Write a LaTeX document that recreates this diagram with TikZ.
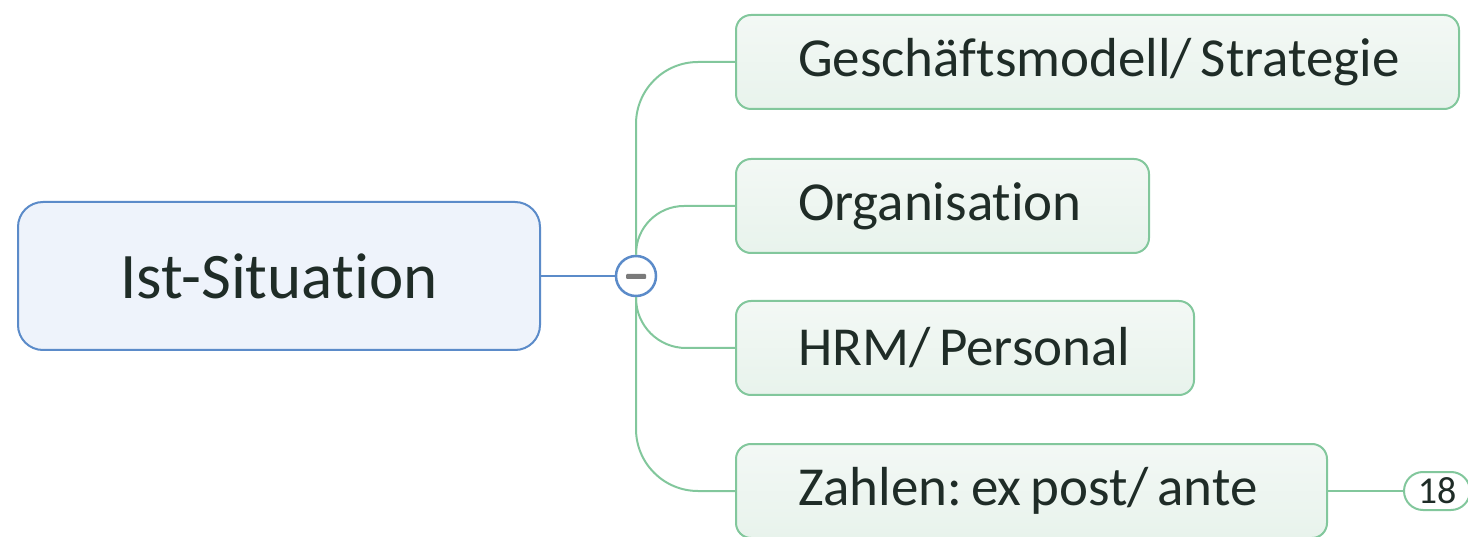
\documentclass[tikz,border=0pt]{standalone}
\usepackage{fontspec}
\setmainfont[Ligatures=NoCommon]{Carlito}
\usepackage{xcolor}
\usetikzlibrary{positioning}
\definecolor{rootfill}{HTML}{EEF3FB}
\definecolor{rootline}{HTML}{5B8BC9}
\definecolor{subtop}{HTML}{F3F8F5}
\definecolor{subbot}{HTML}{E8F3EC}
\definecolor{subline}{HTML}{82C79C}
\definecolor{inkcol}{HTML}{1F2C27}
\definecolor{minuscol}{HTML}{7A7A7A}
\frenchspacing
\newcommand{\tightspace}{\spaceskip=0.16em\relax}

\begin{document}
\begin{tikzpicture}[x=1pt, y=-1pt,
    rootbox/.style={draw=rootline, line width=2pt, fill=rootfill, rounded corners=25pt,
      minimum width=522pt, minimum height=148pt, text=inkcol,
      font=\fontsize{65}{70}\selectfont},
    subbox/.style={draw=subline, line width=2pt, top color=subtop, bottom color=subbot,
      rounded corners=15pt, anchor=west, inner xsep=62pt, minimum height=94pt,
      align=left, text=inkcol, font=\fontsize{55}{60}\selectfont,
      execute at begin node=\tightspace},
    branch/.style={draw=subline, line width=2pt},
    pill/.style={draw=subline, line width=2pt, fill=white, rounded corners=19pt,
      minimum width=66pt, minimum height=38pt, inner sep=0pt, anchor=west,
      text=inkcol, font=\fontsize{38}{40}\selectfont}]
    \useasboundingbox (0,0) rectangle (1468,537);

    \node[rootbox] (root) at (279,276) {Ist-Situation};
    \node[draw=rootline, line width=2.5pt, fill=white, circle, minimum size=40pt] (knob) at (636,276) {};
    \fill[minuscol, rounded corners=1pt] (626,274) rectangle (646,279);

    \node[subbox, text width=599pt] (strat) at (735,62) {\mbox{Geschäftsmodell/ Strategie}};
    \node[subbox, text width=289pt] (orga) at (735,206) {\mbox{Organisation}};
    \node[subbox, text width=334pt] (hrm) at (735,348) {\mbox{HRM/ Personal}};
    \node[subbox, text width=467pt] (zahlen) at (735,491) {\mbox{Zahlen: ex post/ ante}};
    \node[pill] (count) at (1403,491) {18};

    \draw[rootline, line width=2pt] (root.east) -- (knob.west);
    \draw[branch, rounded corners=62pt] (knob.north) |- (strat.west);
    \draw[branch, rounded corners=48pt] (knob.north) |- (orga.west);
    \draw[branch, rounded corners=50pt] (knob.south) |- (hrm.west);
    \draw[branch, rounded corners=62pt] (knob.south) |- (zahlen.west);
    \draw[branch] (zahlen.east) -- (count.west);
\end{tikzpicture}
\end{document}
